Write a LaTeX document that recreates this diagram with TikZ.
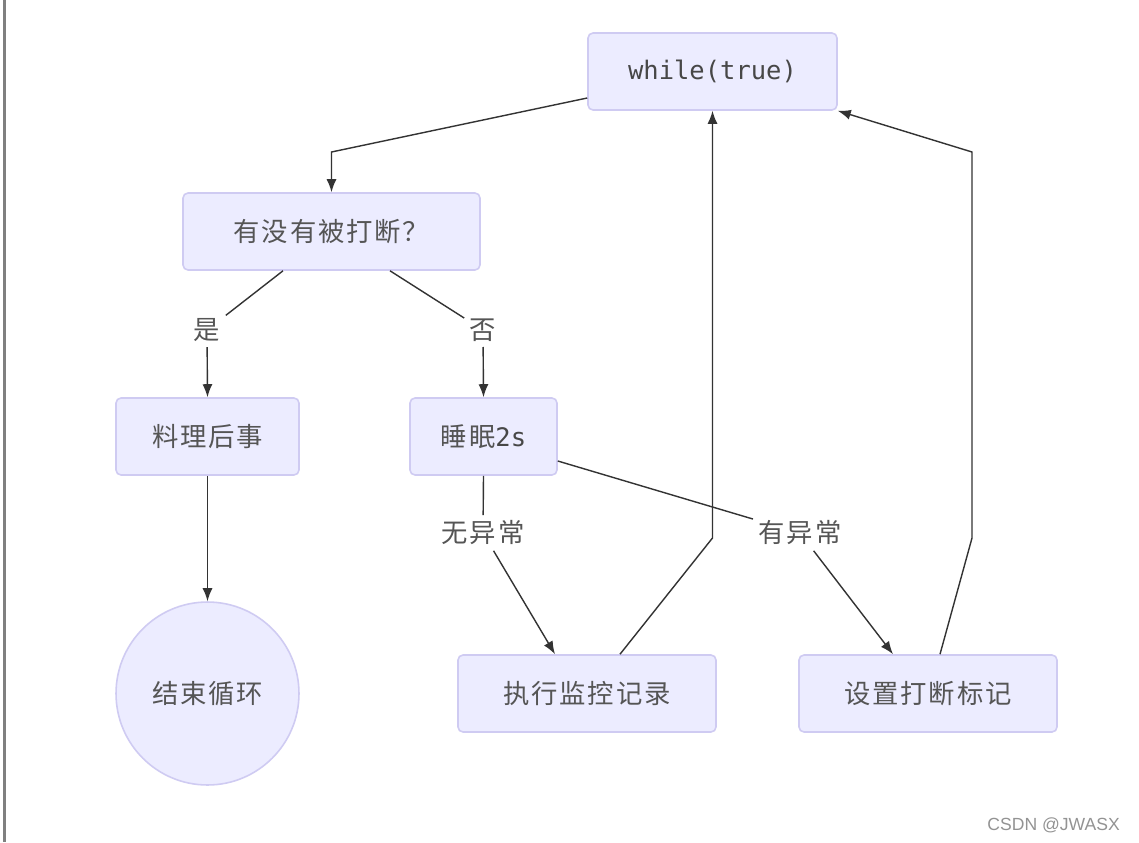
\documentclass[tikz,border=0pt]{standalone}
\usepackage{fontspec}
\newfontfamily\cjk[LetterSpace=7]{Noto Sans CJK SC}
\newfontfamily\mono{DejaVu Sans Mono}
\newfontfamily\wm{Liberation Sans}
\usetikzlibrary{arrows.meta}
\definecolor{boxfill}{HTML}{ECECFF}
\definecolor{boxdraw}{HTML}{CFCBF2}
\definecolor{txt}{HTML}{555555}
\definecolor{ln}{HTML}{333333}
\tikzset{
  box/.style={draw=boxdraw, fill=boxfill, line width=0.9pt, rounded corners=0.1cm, inner sep=0pt, text=txt, font=\cjk\fontsize{15}{18}\selectfont},
  circ/.style={draw=boxdraw, fill=boxfill, line width=0.9pt, circle, inner sep=0pt, text=txt, font=\cjk\fontsize{15}{18}\selectfont, minimum size=3.66cm},
  lbl/.style={text=txt, font=\cjk\fontsize{15}{18}\selectfont, inner sep=3pt},
  edge/.style={draw=ln, line width=0.8pt},
  arr/.style={edge, -{Latex[length=2.6mm,width=2mm]}},
}
\begin{document}
\begin{tikzpicture}[x=0.02cm,y=-0.02cm]
\useasboundingbox[fill=white] (0,0) rectangle (1139,842);
\draw[gray, line width=1.2pt] (4.5,0) -- (4.5,842);
\node[box, minimum width=4.98cm, minimum height=1.54cm] (w) at (712.5,71.5) {\mono\fontsize{14.5}{17}\selectfont\color{ln!90}while(true)};
\node[box, minimum width=5.94cm, minimum height=1.54cm] (q) at (331.5,231.5) {有没有被打断？};
\node[box, minimum width=3.66cm, minimum height=1.54cm] (a) at (207.5,436.5) {料理后事};
\node[box, minimum width=2.94cm, minimum height=1.54cm] (s) at (483.5,436.5) {睡眠{\mono\fontsize{14.5}{17}\selectfont\color{ln!90}2s}};
\node[circ] (e) at (207.5,693.5) {结束循环};
\node[box, minimum width=5.16cm, minimum height=1.54cm] (m) at (587,693.5) {执行监控记录};
\node[box, minimum width=5.16cm, minimum height=1.54cm] (f) at (928,693.5) {设置打断标记};
\node[lbl] (yes) at (207,330) {是};
\node[lbl] (no) at (483,330) {否};
\node[lbl] (ok) at (483,533) {无异常};
\node[lbl] (ex) at (800,533) {有异常};
\coordinate (b1) at (331.5,152);
\coordinate (b2) at (712.5,538);
\coordinate (b3) at (972,538);
\coordinate (b4) at (972,152);
\draw[arr] ([yshift=-0.53cm]w.west) -- (b1) -- (q.north);
\draw[edge] ([xshift=-0.97cm]q.south) -- (yes);
\draw[arr] (yes) -- (a.north);
\draw[edge] ([xshift=1.17cm]q.south) -- (no);
\draw[arr] (no) -- (s.north);
\draw[arr] (a) -- (e);
\draw[edge] (s.south) -- (ok);
\draw[arr] (ok) -- ([xshift=-0.64cm]m.north);
\draw[edge] ([yshift=-0.49cm]s.east) -- (ex);
\draw[arr] (ex) -- ([xshift=-0.7cm]f.north);
\draw[arr] ([xshift=0.66cm]m.north) -- (b2) -- (w.south);
\draw[arr] ([xshift=0.24cm]f.north) -- (b3) -- (b4) -- (w.south east);
\node[text=gray!85, font=\wm\fontsize{10}{12}\selectfont, anchor=east] (wmk) at (1126,825) {CSDN @JWASX};
\end{tikzpicture}
\end{document}
